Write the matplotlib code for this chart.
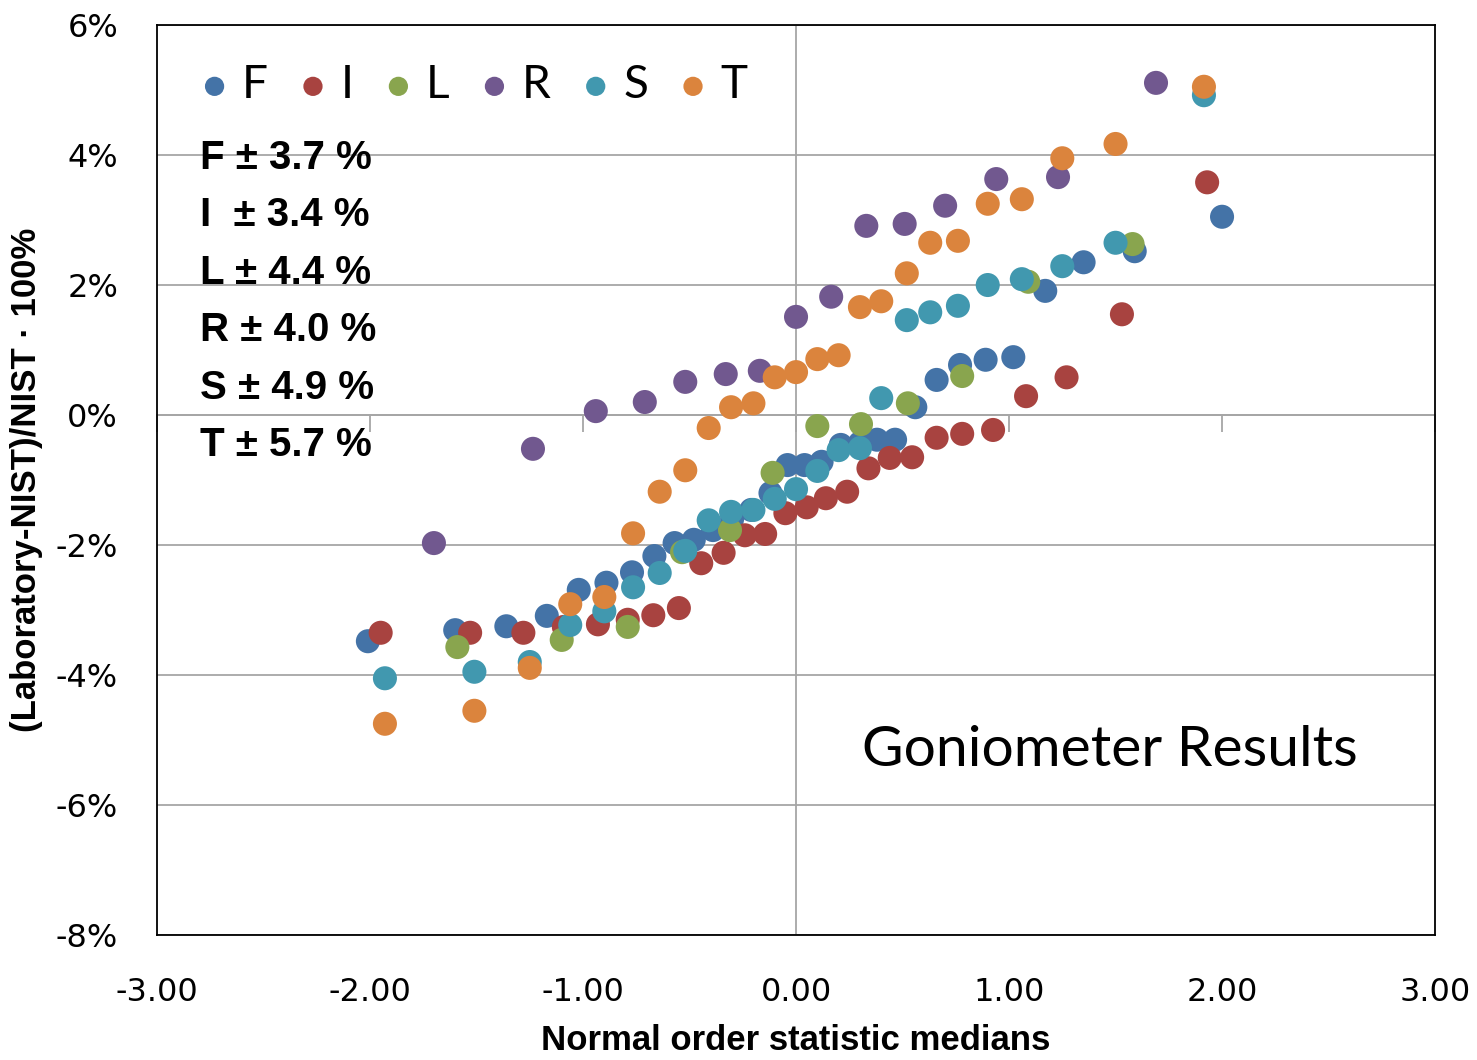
import numpy as np
import matplotlib
matplotlib.use("Agg")
from matplotlib import pyplot as plt
from matplotlib.ticker import FixedLocator, FuncFormatter, NullFormatter

# normal order statistic medians (x) and percent deviation (y) per laboratory
f_x = [-2.01, -1.60, -1.36, -1.17, -1.02, -0.89, -0.77, -0.665, -0.57, -0.48,
       -0.39, -0.30, -0.21, -0.12, -0.04, 0.04, 0.12, 0.21, 0.30, 0.38,
       0.465, 0.56, 0.66, 0.77, 0.89, 1.02, 1.17, 1.35, 1.59, 2.00]
f_y = [-3.48, -3.31, -3.25, -3.09, -2.69, -2.58, -2.42, -2.17, -1.97, -1.92,
       -1.77, -1.60, -1.46, -1.20, -0.77, -0.77, -0.72, -0.46, -0.43, -0.38,
       -0.38, 0.12, 0.54, 0.77, 0.85, 0.89, 1.91, 2.35, 2.52, 3.05]

i_x = [-1.95, -1.53, -1.28, -1.09, -0.93, -0.79, -0.67, -0.55, -0.445, -0.34,
       -0.24, -0.145, -0.05, 0.05, 0.14, 0.24, 0.34, 0.44, 0.545, 0.66,
       0.78, 0.925, 1.08, 1.27, 1.53, 1.93]
i_y = [-3.35, -3.35, -3.35, -3.26, -3.22, -3.15, -3.08, -2.97, -2.28, -2.12,
       -1.85, -1.83, -1.51, -1.42, -1.28, -1.18, -0.82, -0.66, -0.65, -0.35,
       -0.29, -0.23, 0.29, 0.58, 1.55, 3.58]

l_x = [-1.59, -1.10, -0.79, -0.535, -0.31, -0.11, 0.10, 0.305, 0.525, 0.78, 1.09, 1.58]
l_y = [-3.57, -3.46, -3.26, -2.11, -1.77, -0.89, -0.17, -0.14, 0.18, 0.60, 2.05, 2.63]

r_x = [-1.70, -1.235, -0.94, -0.71, -0.52, -0.33, -0.17, 0.0, 0.165, 0.33,
       0.51, 0.70, 0.94, 1.23, 1.69]
r_y = [-1.97, -0.52, 0.06, 0.20, 0.51, 0.63, 0.68, 1.51, 1.82, 2.91,
       2.94, 3.22, 3.63, 3.66, 5.11]

st_x = [-1.93, -1.51, -1.25, -1.06, -0.90, -0.765, -0.64, -0.52, -0.41, -0.305,
        -0.20, -0.10, 0.0, 0.10, 0.20, 0.30, 0.40, 0.52, 0.63, 0.76,
        0.90, 1.06, 1.25, 1.50, 1.915]
s_y = [-4.05, -3.95, -3.80, -3.23, -3.02, -2.65, -2.43, -2.09, -1.62, -1.49,
       -1.46, -1.29, -1.14, -0.86, -0.54, -0.51, 0.26, 1.46, 1.58, 1.68,
       2.00, 2.09, 2.29, 2.65, 4.92]
t_y = [-4.75, -4.55, -3.89, -2.91, -2.80, -1.82, -1.18, -0.85, -0.20, 0.12,
       0.18, 0.58, 0.66, 0.86, 0.92, 1.66, 1.75, 2.18, 2.65, 2.68,
       3.25, 3.32, 3.95, 4.17, 5.05]

names = ["F", "I", "L", "R", "S", "T"]
xs = [f_x, i_x, l_x, r_x, st_x, st_x]
ys = [f_y, i_y, l_y, r_y, s_y, t_y]
colors = ["#4473A7", "#A84340", "#89A54E", "#71588F", "#4198AF", "#DB843D"]
spread = ["F \u00b1 3.7 %", "I  \u00b1 3.4 %", "L \u00b1 4.4 %",
          "R \u00b1 4.0 %", "S \u00b1 4.9 %", "T \u00b1 5.7 %"]

x_ticks = [-3, -2, -1, 0, 1, 2, 3]
y_ticks = [-8, -6, -4, -2, 0, 2, 4, 6]

fig = plt.figure(figsize=(14.77, 10.6), dpi=100)
ax = fig.add_axes([0.1063, 0.1179, 0.8653, 0.8585])

for name, x, y, c in zip(names, xs, ys, colors):
    ax.scatter(x, y, s=300, color=c, edgecolors="none", label=name, zorder=3)

ax.set_xlim(-3, 3)
ax.set_ylim(-8, 6)
ax.xaxis.set_major_locator(FixedLocator(x_ticks))
ax.yaxis.set_major_locator(FixedLocator(y_ticks))
ax.xaxis.set_major_formatter(FuncFormatter(lambda v, p: "%.2f" % v))
ax.yaxis.set_major_formatter(FuncFormatter(lambda v, p: "%d%%" % v))
ax.tick_params(length=0, labelsize=23, pad=28)
ax.tick_params(axis="x", pad=30)

ax.yaxis.grid(True, color="#A6A6A6", lw=1.3, zorder=0)
ax.axvline(0, color="#A6A6A6", lw=1.3, zorder=0)
for sp in ax.spines.values():
    sp.set_color("black")
    sp.set_linewidth(1.3)

# horizontal axis crossing at 0% with ticks hanging below it
sec = ax.secondary_xaxis(8 / 14)
sec.xaxis.set_major_locator(FixedLocator(x_ticks))
sec.xaxis.set_major_formatter(NullFormatter())
sec.tick_params(direction="in", length=12, width=1.3, color="#A6A6A6")
for sp in sec.spines.values():
    sp.set_color("#A6A6A6")
    sp.set_linewidth(1.3)

lab_font = ["Liberation Sans Narrow", "Liberation Sans"]
ax.set_xlabel("Normal order statistic medians", family=lab_font, fontweight="bold",
              fontsize=25, labelpad=12)
ax.set_ylabel("(Laboratory-NIST)/NIST \u00b7 100%", family=lab_font, fontweight="bold",
              fontsize=25, labelpad=9)

leg = ax.legend(ncol=6, loc="upper left", bbox_to_anchor=(0.002, 0.992), frameon=False,
                markerscale=0.8, handletextpad=0.1, columnspacing=0.48, handlelength=1.0,
                borderaxespad=0.3, prop={"family": "Lato", "size": 33})

ax.text(0.034, 0.875, "\n".join(spread), transform=ax.transAxes, va="top", ha="left",
        family=lab_font, fontweight="bold", fontsize=29, linespacing=1.65)

ax.text(0.552, 0.203, "Goniometer Results", transform=ax.transAxes, va="center",
        ha="left", family="Lato", fontsize=41)

fig.savefig("out.png", dpi=100)
